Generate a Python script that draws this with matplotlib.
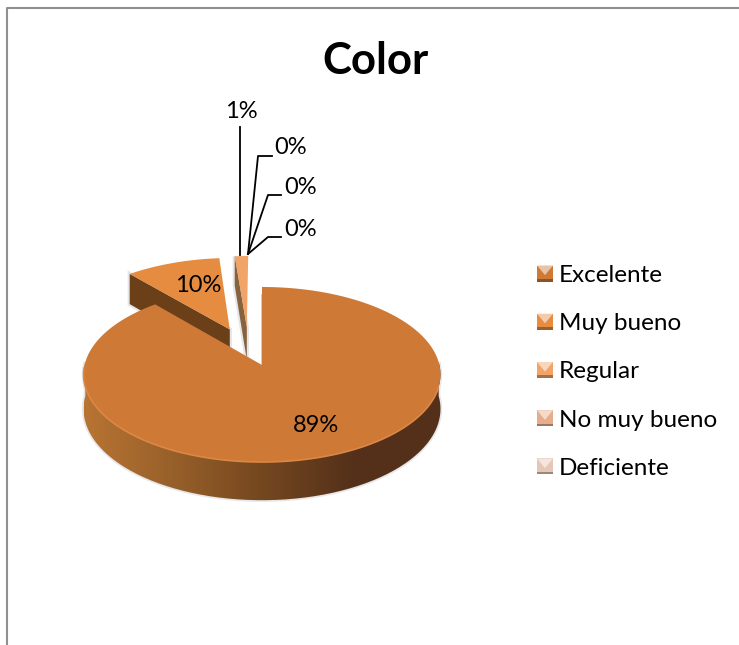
import numpy as np
import matplotlib
matplotlib.use("Agg")
import matplotlib.pyplot as plt
from matplotlib.colors import LinearSegmentedColormap
from matplotlib.legend_handler import HandlerPatch
from matplotlib.patches import Patch, PathPatch, Polygon
from matplotlib.path import Path

plt.rcParams["font.family"] = ["Lato", "DejaVu Sans"]

categories = ["Excelente", "Muy bueno", "Regular", "No muy bueno", "Deficiente"]
values = [88.7, 9.9, 1.4, 0.0, 0.0]
colors = ["#ce7a36", "#e58c41", "#f0a468", "#e6ad8c", "#e6c6b6"]
wall_colors = ["#7a4a20", "#6b4019", "#86623f", "#8a6a50", "#8a6a50"]

# pie geometry, pixels of the 739x645 picture
cx, cy = 262.0, 365.0
A, K, P = 177.4, 86.5, 0.1086  # perspective of the tilted disc
D = 34.0                       # thickness
# how far each slice is pulled out of the pie
shift_u = [0.0, -0.19, -0.09, 0.0, 0.0]
shift_v = [0.0, 0.43, 0.46, 0.0, 0.0]


def project(u, v, down=0.0):
    w = 1 + P * v
    return cx + A * u / w, cy - K * v / w + D * down / w


def arc(a0, a1, du=0.0, dv=0.0, down=0.0):
    t = np.radians(np.linspace(a0, a1, 200))
    return project(np.sin(t) + du, np.cos(t) + dv, down)


def wedge_top(a0, a1, du, dv):
    x, y = arc(a0, a1, du, dv)
    x0, y0 = project(du, dv)
    return np.column_stack([np.r_[x0, x], np.r_[y0, y]])


def edge_wall(angle, du, dv):
    t = np.radians(angle)
    xa, ya = project(du, dv)
    xb, yb = project(np.sin(t) + du, np.cos(t) + dv)
    xc, yc = project(np.sin(t) + du, np.cos(t) + dv, 1)
    xd, yd = project(du, dv, 1)
    return [[xa, ya], [xb, yb], [xc, yc], [xd, yd]]


class BevelHandler(HandlerPatch):
    # little bevelled square, like the office legend keys
    def create_artists(self, legend, orig, xd, yd, width, height, fontsize, trans):
        s = 16.0 * 0.72
        x0 = -xd
        y0 = -yd + (height - s) / 2
        c = np.array(matplotlib.colors.to_rgb(orig.get_facecolor()))
        light = c + (1 - c) * 0.55
        dark = c * 0.68
        b = s * 0.16
        mid = [x0 + s / 2, y0 + s * 0.4]
        parts = [
            ([[x0, y0], [x0 + s, y0], [x0 + s, y0 + s], [x0, y0 + s]], c),
            ([[x0, y0 + s], [x0 + s, y0 + s], mid], light),
            ([[x0, y0], [x0 + s, y0], [x0 + s, y0 + b], [x0, y0 + b]], dark),
        ]
        return [Polygon(p, closed=True, facecolor=col, edgecolor="none", transform=trans) for p, col in parts]


fig = plt.figure(figsize=(7.39, 6.45), dpi=100)
ax = fig.add_axes([0, 0, 1, 1])

# chart frame, only left and top show in the crop
ax.plot([6.8, 6.8, 739], [645, 8, 8], color="#909090", lw=1.5)

stops = np.cumsum([0] + values) / sum(values) * 360

# back slices first, the big one lies over them
for i in [2, 1]:
    a0, a1 = stops[i], stops[i + 1]
    wall = edge_wall(a0, shift_u[i], shift_v[i])
    ax.add_patch(Polygon(wall, facecolor="#999999", edgecolor="#999999", lw=3, alpha=0.25))
    ax.add_patch(Polygon(wall, facecolor=wall_colors[i], edgecolor="none"))
    ax.add_patch(Polygon(wedge_top(a0, a1, shift_u[i], shift_v[i]), facecolor=colors[i], edgecolor="none"))

# outer wall of the big slice with its left-right shading
xt, yt = arc(88, 272)
xb, yb = arc(272, 88, down=1)
wall_pts = np.column_stack([np.r_[xt, xb], np.r_[yt, yb]])
ax.add_patch(Polygon(wall_pts, facecolor="#bbbbbb", edgecolor="#bbbbbb", lw=2.5, alpha=0.35))
shade = LinearSegmentedColormap.from_list("wall", ["#54301a", "#55311a", "#74471f", "#97602a", "#b87433"])
im = ax.imshow(np.linspace(0, 1, 256)[None, :][:, ::-1], extent=(xt.min(), xt.max(), 510, 360),
               cmap=shade, aspect="auto", zorder=2)
im.set_clip_path(PathPatch(Path(np.vstack([wall_pts, wall_pts[0]])), transform=ax.transData))

main_top = wedge_top(stops[0], stops[1], 0, 0)
ax.add_patch(Polygon(main_top, facecolor=colors[0], edgecolor="none", zorder=3))
xr, yr = arc(105, 268)
ax.plot(xr, yr, color="#dc8745", lw=1.2, zorder=4)
ax.plot([cx, cx], [cy, cy - 70], color="#9a9a9a", lw=1.2, alpha=0.6, zorder=2.5)

# data labels
texts = [f"{v:.0f}%" for v in values]
ax.text(316, 425, texts[0], fontsize=17, ha="center", va="center", zorder=6)
ax.text(198, 285, texts[1], fontsize=17, ha="center", va="center", zorder=6)
ax.text(241, 112, texts[2], fontsize=17, ha="center", va="center", zorder=6)
ax.text(291, 147, texts[3], fontsize=17, ha="center", va="center", zorder=6)
ax.text(301, 188, texts[4], fontsize=17, ha="center", va="center", zorder=6)
ax.text(301, 230, "0%", fontsize=17, ha="center", va="center", zorder=6)

# leader lines
ax.plot([240, 240], [127, 255], color="black", lw=1.3, zorder=5)
ax.plot([248, 258, 272], [254, 156, 156], color="black", lw=1.3, zorder=5)
ax.plot([248, 268, 281], [254, 195, 195], color="black", lw=1.3, zorder=5)
ax.plot([248, 268, 281], [254, 237, 237], color="black", lw=1.3, zorder=5)

ax.text(376, 61, "Color", fontsize=31.5, fontweight="bold", ha="center", va="center")

handles = [Patch(facecolor=c) for c in colors]
ax.legend(handles, categories, handler_map={Patch: BevelHandler()}, frameon=False,
          fontsize=17.5, loc="upper left", bbox_to_anchor=(537 / 739, 1 - 265 / 645),
          bbox_transform=fig.transFigure, borderaxespad=0, borderpad=0, labelspacing=1.12,
          handlelength=0.67, handleheight=0.7, handletextpad=0.22)

ax.set_xlim(0, 739)
ax.set_ylim(645, 0)
ax.axis("off")
fig.savefig("out.png", dpi=100)
